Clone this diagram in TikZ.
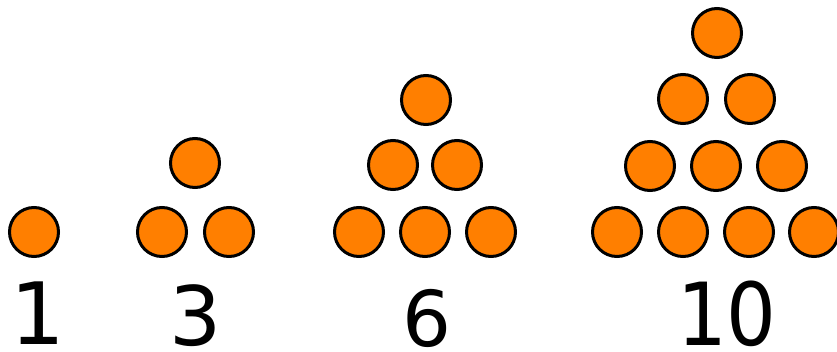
\documentclass[tikz,border=0pt]{standalone}
\usepackage{fontspec}
\setmainfont{DejaVu Sans}
\definecolor{dotorange}{HTML}{FF7F00}
\tikzset{
  dot/.style={circle, draw=black, fill=dotorange, line width=3pt, minimum size=49pt, inner sep=0pt},
  numlabel/.style={anchor=base, inner sep=0pt}
}
\begin{document}
\begin{tikzpicture}[x=1pt,y=-1pt]
\useasboundingbox (0,0) rectangle (837,352);
\fill[white] (0,0) rectangle (837,352);
% 1
\node[dot] (a1) at (34,232) {};
\node[numlabel, font=\fontsize{86}{86}\selectfont] (l1) at (38,344) {1};
% 3
\node[dot] (b1) at (162,232) {};
\node[dot] (b2) at (229,232) {};
\node[dot] (b3) at (195,163) {};
\node[numlabel, font=\fontsize{82}{82}\selectfont] (l3) at (196,345) {3};
% 6
\node[dot] (c1) at (359,232) {};
\node[dot] (c2) at (425,232) {};
\node[dot] (c3) at (491,232) {};
\node[dot] (c4) at (393,165) {};
\node[dot] (c5) at (457,165) {};
\node[dot] (c6) at (426,100) {};
\node[numlabel, font=\fontsize{77}{77}\selectfont] (l6) at (427,346) {6};
% 10
\node[dot] (d1) at (617,232) {};
\node[dot] (d2) at (683,232) {};
\node[dot] (d3) at (749,232) {};
\node[dot] (d4) at (814,232) {};
\node[dot] (d5) at (650,166) {};
\node[dot] (d6) at (716,166) {};
\node[dot] (d7) at (782,166) {};
\node[dot] (d8) at (683,99) {};
\node[dot] (d9) at (750,99) {};
\node[dot] (d10) at (717,33) {};
\node[numlabel, xscale=0.9, font=\fontsize{87}{87}\selectfont] (l10) at (727,345) {10};
\end{tikzpicture}
\end{document}
